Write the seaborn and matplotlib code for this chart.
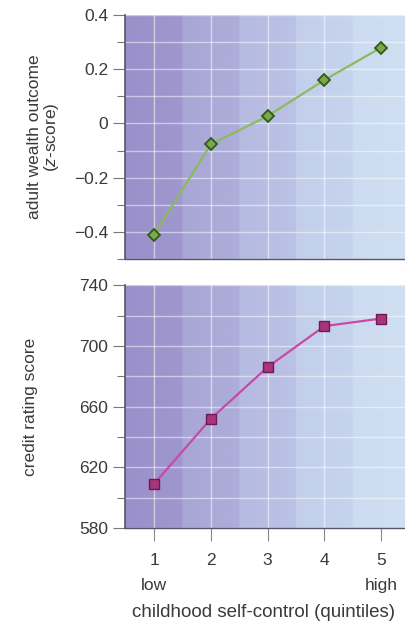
import numpy as np
import pandas as pd
import matplotlib
matplotlib.use("Agg")
import matplotlib.pyplot as plt
from matplotlib.colors import LinearSegmentedColormap
from matplotlib.ticker import MultipleLocator
import seaborn as sns

# datos
quintiles = [1, 2, 3, 4, 5]
wealth_z = [-0.41, -0.077, 0.027, 0.16, 0.28]
credit_score = [609, 652, 686, 713, 718]
x_ticklabels = ["1", "2", "3", "4", "5"]

sns.set_style("white")
plt.rcParams['font.family'] = ['Liberation Sans', 'DejaVu Sans']
plt.rcParams['mathtext.fontset'] = 'custom'
plt.rcParams['mathtext.it'] = 'Liberation Sans:italic'
plt.rcParams['mathtext.rm'] = 'Liberation Sans'

txt = "#3a3a3a"
fs_tick = 12.5
fs_lab = 12.5
fig = plt.figure(figsize=(4.05, 6.24), dpi=100)
ax1 = fig.add_axes([0.309, 0.585, 0.691, 0.391])
ax2 = fig.add_axes([0.309, 0.154, 0.691, 0.389])

xlim = (0.49, 5.42)
bg = LinearSegmentedColormap.from_list("bg", ["#9a90ca", "#b0b2dc", "#c3d0ec", "#d2e2f3"])


def fondo(ax, ylim):
    xs = np.linspace(xlim[0], xlim[1], 600)
    band = np.floor(xs - 0.5)
    frac = (xs - 0.5) - band
    v = np.clip((band + 0.35 * frac) / 4.6, 0, 1)
    img = np.tile(v, (2, 1))
    ax.imshow(img, cmap=bg, aspect="auto", extent=[xlim[0], xlim[1], ylim[0], ylim[1]],
              origin="lower", zorder=0, vmin=0, vmax=1)
    ax.set_xlim(*xlim)
    ax.set_ylim(*ylim)
    for x in quintiles[:-1]:
        ax.axvline(x, color="white", lw=1.0, alpha=0.55, zorder=1)
    for y in ax.yaxis.get_minorticklocs():
        ax.axhline(y, color="white", lw=1.0, alpha=0.5, zorder=1)
    for y in ax.yaxis.get_majorticklocs():
        ax.axhline(y, color="white", lw=1.0, alpha=0.5, zorder=1)


def estilo(ax):
    for s in ["top", "right"]:
        ax.spines[s].set_visible(False)
    ax.spines["left"].set_color("#555566")
    ax.spines["left"].set_linewidth(1.2)
    ax.spines["bottom"].set_color("#555566")
    ax.spines["bottom"].set_linewidth(1.0)
    ax.tick_params(axis="y", which="both", left=True, length=9, width=0.8, color="#777777",
                   labelsize=fs_tick, labelcolor=txt, pad=3)
    ax.tick_params(axis="y", which="minor", length=6)


# panel superior: riqueza
ax1.set_ylim(-0.5, 0.4)
ax1.yaxis.set_major_locator(MultipleLocator(0.2))
ax1.yaxis.set_minor_locator(MultipleLocator(0.1))
fondo(ax1, (-0.5, 0.4))
df1 = pd.DataFrame({"q": quintiles, "v": wealth_z})
sns.lineplot(data=df1, x="q", y="v", ax=ax1, color="#8cba5c", lw=1.6, marker="D",
             markersize=6, markerfacecolor="#7aa84a", markeredgecolor="#2f5a18",
             markeredgewidth=1.3, zorder=3)
ax1.set_yticks([-0.4, -0.2, 0, 0.2, 0.4])
ax1.set_yticklabels(["\u22120.4", "\u22120.2", "0", "0.2", "0.4"])
ax1.set_xticks([])
ax1.set_xlabel("")
ax1.set_ylabel("adult wealth outcome\n($\\it{z}$-score)", fontsize=fs_lab, color=txt,
               linespacing=1.0)
ax1.yaxis.set_label_coords(-0.23, 0.5)
estilo(ax1)

# panel inferior: credito
ax2.set_ylim(580, 740)
ax2.yaxis.set_major_locator(MultipleLocator(40))
ax2.yaxis.set_minor_locator(MultipleLocator(20))
fondo(ax2, (580, 740))
df2 = pd.DataFrame({"q": quintiles, "v": credit_score})
sns.lineplot(data=df2, x="q", y="v", ax=ax2, color="#c84aa4", lw=1.6, marker="s",
             markersize=6.5, markerfacecolor="#a8347c", markeredgecolor="#6e1a50",
             markeredgewidth=1.0, zorder=3)
ax2.set_yticks([580, 620, 660, 700, 740])
ax2.set_xticks(quintiles)
ax2.set_xticklabels(x_ticklabels)
ax2.tick_params(axis="x", bottom=True, length=9, width=0.8, color="#888888",
                labelsize=fs_tick, labelcolor=txt, pad=9)
ax2.set_xlabel("")
ax2.set_ylabel("credit rating score", fontsize=fs_lab, color=txt)
ax2.yaxis.set_label_coords(-0.31, 0.5)
estilo(ax2)

tr = ax2.get_xaxis_transform()
ax2.text(1, -0.238, "low", transform=tr, ha="center", va="center", fontsize=fs_tick, color=txt)
ax2.text(5, -0.238, "high", transform=tr, ha="center", va="center", fontsize=fs_tick, color=txt)
fig.text(0.325, 0.018, "childhood self-control (quintiles)", ha="left", va="center",
         fontsize=13.5, color=txt)

fig.savefig("out.png", dpi=100)
